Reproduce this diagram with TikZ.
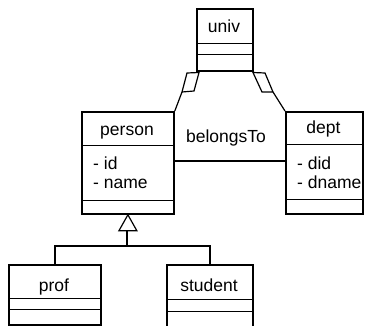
\documentclass[tikz,border=0pt]{standalone}
\usepackage{fontspec}
\setmainfont{Liberation Sans}
\begin{document}
\begin{tikzpicture}[x=1pt,y=-1pt,
  box/.style={draw, line width=1.8pt, inner sep=0pt, anchor=north west},
  sepline/.style={line width=0.9pt},
  conn/.style={line width=1.2pt},
  lbl/.style={font=\fontsize{17.5}{20}\selectfont, inner sep=0pt, anchor=base},
  attr/.style={lbl, anchor=base west}]
\useasboundingbox (0,0) rectangle (375,326);
\begin{scope}
\clip (0,0) rectangle (375,326);
% classes
\node[box, minimum width=56pt, minimum height=62pt] (univ) at (196,8) {};
\draw[sepline] ([yshift=-35pt]univ.north west) -- ([yshift=-35pt]univ.north east);
\draw[sepline] ([yshift=-46pt]univ.north west) -- ([yshift=-46pt]univ.north east);
\node[lbl] (univt) at (224,33) {univ};

\node[box, minimum width=92pt, minimum height=102pt] (person) at (81,111) {};
\draw[sepline] ([yshift=-34pt]person.north west) -- ([yshift=-34pt]person.north east);
\draw[sepline] ([yshift=-89pt]person.north west) -- ([yshift=-89pt]person.north east);
\node[lbl] (persont) at (127,136) {person};
\node[attr] (pid) at (93,170) {- id};
\node[attr] (pname) at (93,189) {- name};

\node[box, minimum width=77pt, minimum height=102pt] (dept) at (285,111) {};
\draw[sepline] ([yshift=-33pt]dept.north west) -- ([yshift=-33pt]dept.north east);
\draw[sepline] ([yshift=-88pt]dept.north west) -- ([yshift=-88pt]dept.north east);
\node[lbl] (deptt) at (323.5,134) {dept};
\node[attr] (ddid) at (297,170) {- did};
\node[attr] (ddname) at (297,189) {- dname};

\node[box, minimum width=92pt, minimum height=60pt] (prof) at (8,264) {};
\draw[sepline] ([yshift=-34pt]prof.north west) -- ([yshift=-34pt]prof.north east);
\draw[sepline] ([yshift=-45pt]prof.north west) -- ([yshift=-45pt]prof.north east);
\node[lbl] (proft) at (54,291) {prof};

\node[box, minimum width=86pt, minimum height=70pt] (student) at (166,264) {};
\draw[sepline] ([yshift=-35pt]student.north west) -- ([yshift=-35pt]student.north east);
\draw[sepline] ([yshift=-47pt]student.north west) -- ([yshift=-47pt]student.north east);
\node[lbl] (studentt) at (209,291) {student};

% association
\draw[conn] ([yshift=-50pt]person.north east) -- ([yshift=-50pt]dept.north west);
\node[lbl] (assoc) at (226,143) {belongsTo};

% aggregations
\coordinate (la) at (182,92);
\draw[conn, fill=white] (199,72.5) -- (187,73) -- (la) -- (194,91) -- cycle;
\draw[conn] (la) -- (person.north east);
\coordinate (ra) at (273,92);
\draw[conn, fill=white] (253,72.5) -- (265,73) -- (ra) -- (262,92) -- cycle;
\draw[conn] (ra) -- (dept.north west);

% generalization
\coordinate (gen) at (127,246);
\coordinate (tribase) at (127,229);
\draw[conn] (prof.north) |- (gen) -| (student.north);
\draw[conn] (tribase) -- (gen);
\draw[conn, fill=white] (person.south) -- ++(9,16) -- ++(-18,0) -- cycle;
\end{scope}
\end{tikzpicture}
\end{document}
